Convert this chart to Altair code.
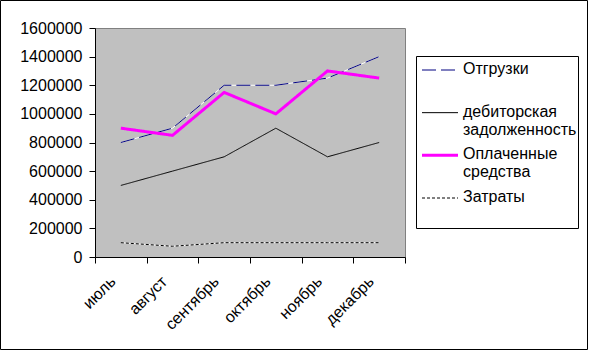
import altair as alt
import pandas as pd

months = ["июль", "август", "сентябрь", "октябрь", "ноябрь", "декабрь"]
series_names = ["Отгрузки", "дебиторская\nзадолженность", "Оплаченные\nсредства", "Затраты"]
series_colors = ["#000080", "black", "#FF00FF", "black"]
series_dashes = [[14, 5], [1, 0], [1, 0], [3, 2]]
legend_dashes = [[12, 12], [1, 0], [1, 0], [4, 2]]
series_widths = [1, 1, 3, 1]
shipments = [800000, 900000, 1200000, 1200000, 1250000, 1400000]
receivables = [500000, 600000, 700000, 900000, 700000, 800000]
paid = [900000, 850000, 1150000, 1000000, 1300000, 1250000]
costs = [100000, 75000, 100000, 100000, 100000, 100000]

rows = []
for name, vals in zip(series_names, [shipments, receivables, paid, costs]):
    for m, v in zip(months, vals):
        rows.append({"month": m, "series": name, "value": v})
df = pd.DataFrame(rows)
leg_df = pd.DataFrame({"series": series_names, "key": series_names,
                       "idx": list(range(len(series_names)))})

FONT = "Liberation Sans"
FS = 16
W, H = 310, 229
PL, PT, PR, PB = 95, 28, 184, 94

x = alt.X("month:N", sort=months, title=None,
          scale=alt.Scale(type="band", paddingInner=0, paddingOuter=0),
          axis=alt.Axis(labelAngle=-45, tickBand="extent", domainColor="black",
                        tickColor="black", tickSize=6, labelFont=FONT, labelFontSize=FS,
                        labelColor="black", labelPadding=10, labelOffset=-14,
                        labelAlign="right", labelBaseline="top"))
yscale = alt.Scale(domain=[0, 1600000], nice=False)
y = alt.Y("value:Q", title=None, scale=yscale,
          axis=alt.Axis(values=list(range(0, 1600001, 200000)), format="d",
                        domainColor="black", tickColor="black", tickSize=6,
                        labelFont=FONT, labelFontSize=FS, labelColor="black",
                        labelPadding=7,
                        gridColor={"condition": {"test": "datum.value == 1600000", "value": "#808080"},
                                   "value": "black"}))
y_noaxis = alt.Y("value:Q", title=None, scale=yscale, axis=None)

color = alt.Color("series:N", scale=alt.Scale(domain=series_names, range=series_colors), legend=None)
dash = alt.StrokeDash("series:N", scale=alt.Scale(domain=series_names, range=series_dashes), legend=None)
leg_dash = alt.StrokeDash("key:N", scale=alt.Scale(domain=series_names, range=legend_dashes), legend=None)
width = alt.StrokeWidth("series:N", scale=alt.Scale(type="ordinal", domain=series_names, range=series_widths),
                        legend=None)

under = alt.Chart(df).transform_filter(
    alt.FieldOneOfPredicate(field="series", oneOf=["Отгрузки", "Затраты"])
).mark_line(color="white", strokeWidth=1).encode(
    x=x, y=y_noaxis, detail="series:N")

lines = alt.Chart(df).mark_line().encode(
    x=x, y=y, color=color, strokeDash=dash, strokeWidth=width)

# manual legend (Excel style)
leg_y = alt.Y("idx:Q", scale=alt.Scale(domain=[0, 3], range=[42, 170]), axis=None)
leg_box = alt.Chart(pd.DataFrame({"a": [0]})).mark_rect(
    fill="white", stroke="black", strokeWidth=1, clip=False
).encode(x=alt.value(321.5), x2=alt.value(483.5), y=alt.value(28.5), y2=alt.value(200.5))
leg_rules = alt.Chart(leg_df).mark_rule(clip=False).encode(
    x=alt.value(327), x2=alt.value(363), y=leg_y,
    color=color, strokeDash=leg_dash, strokeWidth=width)
leg_text = alt.Chart(leg_df).mark_text(
    align="left", baseline="top", dy=-9, lineBreak="\n", lineHeight=18,
    font=FONT, fontSize=FS, color="black", clip=False
).encode(x=alt.value(368), y=leg_y, text="series:N")

frame = alt.Chart(pd.DataFrame({"a": [0]})).mark_rect(
    fill=None, stroke="black", strokeWidth=1, clip=False
).encode(
    x=alt.value(0.5 - PL), x2=alt.value(587.5 - PL),
    y=alt.value(0.5 - PT), y2=alt.value(349.5 - PT))

chart = alt.layer(under, lines, leg_box, leg_rules, leg_text, frame).resolve_scale(
    y="independent"
).properties(
    width=W, height=H,
    padding={"left": PL, "top": PT, "right": PR, "bottom": PB},
    autosize=alt.AutoSizeParams(type="none"),
    background="white",
).configure_view(fill="#C0C0C0", stroke="#808080")

chart.save("out.html", embed_options={"renderer": "svg", "actions": False})
